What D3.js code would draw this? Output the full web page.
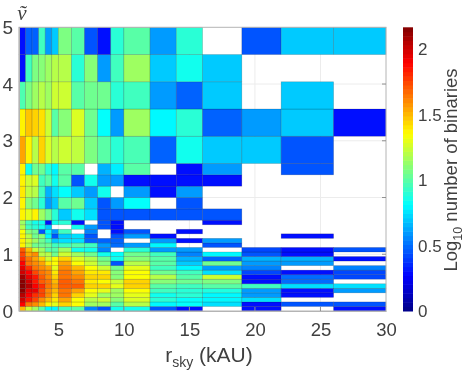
<!DOCTYPE html>
<html>
<head>
<meta charset="utf-8">
<script src="https://cdn.jsdelivr.net/npm/d3@7"></script>
<style>
html, body { margin: 0; padding: 0; background: #fff; }
svg { display: block; filter: blur(0.5px); }
text { font-family: "Liberation Sans", Arial, sans-serif; fill: #404040; }
</style>
</head>
<body>
<div id="chart"></div>
<script>
// bin edges of the histogram
var colEdges = [2, 2.5, 3, 3.5, 4, 4.5, 5, 6, 7, 8, 9, 10, 12, 14, 16, 19, 22, 26, 30];
var rowEdges = [0, 0.08, 0.16, 0.24, 0.32, 0.4, 0.48, 0.56, 0.64, 0.72, 0.8, 0.88, 0.96, 1.04, 1.12, 1.2,
	1.28, 1.36, 1.44, 1.52, 1.6, 1.8, 2, 2.2, 2.4, 2.6, 3.08, 3.56, 4.04, 4.52, 5];

// log10 number of binaries, first list is the lowest row, null = no binaries
var logCounts = [
	[1.5,1.25,1.15,1.0,.8,.8,.95,1.0,.55,.45,.85,.85,.45,.3,null,.3,null,.3],
	[1.9,1.65,1.6,1.5,1.38,1.3,1.45,1.35,1.15,1.15,1.0,1.2,.8,.82,.75,.3,.45,.45],
	[2.0,1.85,1.75,1.6,1.5,1.4,1.55,1.35,1.2,1.25,1.1,1.28,.9,.82,.8,.75,null,null],
	[2.05,1.9,1.8,1.75,1.6,1.45,1.65,1.45,1.3,1.15,1.15,1.3,.85,.9,.8,.6,.3,null],
	[2.15,1.95,1.95,1.75,1.6,1.5,1.65,1.55,1.35,1.3,1.15,1.35,.95,.9,.88,.6,.3,.6],
	[2.15,2.05,1.9,1.8,1.65,1.55,1.7,1.7,1.45,1.45,1.3,1.45,1.0,.95,1.0,.95,.75,.75],
	[2.15,2.0,1.85,1.7,1.65,1.5,1.7,1.65,1.4,1.35,1.25,1.45,1.1,1.05,1.08,.3,.5,null],
	[2.1,1.95,1.85,1.7,1.6,1.45,1.65,1.6,1.45,1.45,1.1,1.35,1.2,1.0,1.25,.3,.5,.42],
	[2.0,1.9,1.75,1.65,1.6,1.4,1.65,1.55,1.4,1.4,1.1,1.35,1.05,.95,.75,.42,.3,.42],
	[1.95,1.8,1.65,1.6,1.55,1.3,1.6,1.5,1.35,1.25,1.05,1.3,.95,.8,.6,.55,null,.55],
	[1.9,1.65,1.6,1.55,1.4,1.35,1.55,1.35,1.25,1.1,.45,1.2,1.0,.7,1.05,.6,.6,null],
	[1.8,1.65,1.55,1.45,1.25,1.35,1.45,1.28,1.2,1.05,.85,1.1,1.0,.65,.48,.65,.65,.3],
	[1.75,1.55,1.6,1.2,1.2,1.05,1.25,1.15,1.05,.85,.82,1.05,.95,.55,.8,.45,.3,null],
	[1.7,1.5,1.25,1.15,1.0,1.0,1.15,.85,.85,.55,null,.9,.6,.6,null,.42,.3,.45],
	[1.38,1.2,1.05,1.05,1.05,.95,.95,1.0,.95,.6,.5,.6,.8,null,.45,null,null,null],
	[1.38,1.25,1.15,1.05,.95,.7,.75,.75,.48,.48,.48,null,.6,.3,.6,null,null,null],
	[1.38,1.2,1.05,1.1,.8,.45,.7,.75,.45,null,.45,.6,.3,null,null,null,.3,null],
	[1.35,1.1,1.05,.45,.8,.6,.95,null,.55,null,.3,.45,null,.3,null,null,null,null],
	[1.2,.95,.9,.85,.7,null,null,.85,.6,.45,.3,null,null,null,null,null,null,null],
	[1.15,.95,.85,.85,.3,.85,.9,.3,null,.45,.3,null,null,null,.3,null,null,null],
	[1.38,1.3,1.38,1.15,1.05,.9,.7,.85,.75,.45,.45,.45,.45,.45,.45,null,null,null],
	[1.38,1.1,1.05,.9,.6,.7,1.0,1.05,.7,.45,.6,.82,null,.45,null,null,null,null],
	[1.4,1.22,1.2,.95,.65,.75,.82,.7,.6,.85,null,.6,.3,.6,null,null,null,null],
	[1.38,1.25,1.28,.95,1.0,.85,1.0,.45,.85,.6,.6,.3,.3,.3,.3,null,null,null],
	[1.38,.85,1.05,1.05,.9,.8,1.0,1.0,null,.65,.78,1.0,null,.3,.6,null,.45,null],
	[1.55,1.38,1.2,1.45,1.28,1.2,1.25,1.22,1.08,1.0,.9,.97,.48,.85,.7,.7,.45,null],
	[1.38,1.48,1.45,1.42,1.25,1.0,1.1,1.28,1.05,.82,.6,1.15,.8,.9,.48,.6,.7,.3],
	[.98,1.08,1.15,1.2,1.15,1.25,1.25,1.0,1.05,1.05,.9,.95,.6,.48,.7,null,.7,null],
	[.3,.95,1.08,1.1,1.15,1.2,1.2,.9,1.1,.6,.95,1.15,.7,.85,.7,null,null,null],
	[.3,.48,.48,.95,.6,.7,1.08,1.0,.45,.3,.9,1.0,.6,.9,null,.45,.7,.7]
];

var xTicks = [5, 10, 15, 20, 25, 30];
var yTicks = [0, 1, 2, 3, 4, 5];
var colorTicks = [0, 0.5, 1, 1.5, 2];
var colorMax = 2.17;

var width = 474, height = 382;
var plot = { left: 19, right: 386, top: 27.3, bottom: 311 };
var bar = { left: 403, right: 413 };
var gray = "#b4b4b4";

var x = d3.scaleLinear().domain([2, 30]).range([plot.left, plot.right]);
var y = d3.scaleLinear().domain([0, 5]).range([plot.bottom, plot.top]);
var barY = d3.scaleLinear().domain([0, colorMax]).range([plot.bottom, plot.top]);

// matlab jet
var jet = d3.scaleLinear()
	.domain([0, 0.125, 0.375, 0.625, 0.875, 1].map(function(t) { return t * colorMax; }))
	.range(["#000084", "#0000ff", "#00ffff", "#ffff00", "#ff0000", "#800000"]);

var svg = d3.select("#chart").append("svg")
	.attr("width", width)
	.attr("height", height);

// faint grid, only seen in the empty bins
var grid = svg.append("g");
grid.selectAll("line.gx").data(xTicks.slice(0, -1)).enter().append("line")
	.attr("class", "gx")
	.attr("x1", function(d) { return x(d); }).attr("x2", function(d) { return x(d); })
	.attr("y1", plot.top).attr("y2", plot.bottom)
	.attr("stroke", "#ececec");
grid.selectAll("line.gy").data(yTicks.slice(1, -1)).enter().append("line")
	.attr("class", "gy")
	.attr("x1", plot.left).attr("x2", plot.right)
	.attr("y1", function(d) { return y(d); }).attr("y2", function(d) { return y(d); })
	.attr("stroke", "#ececec");

// histogram cells
var cells = [];
logCounts.forEach(function(row, r) {
	row.forEach(function(v, c) {
		if (v !== null) cells.push({ r: r, c: c, v: v });
	});
});

svg.append("g").selectAll("rect").data(cells).enter().append("rect")
	.attr("x", function(d) { return x(colEdges[d.c]); })
	.attr("y", function(d) { return y(rowEdges[d.r + 1]); })
	.attr("width", function(d) { return x(colEdges[d.c + 1]) - x(colEdges[d.c]); })
	.attr("height", function(d) { return y(rowEdges[d.r]) - y(rowEdges[d.r + 1]); })
	.style("fill", function(d) { return jet(d.v); })
	.style("stroke", "rgba(0,0,0,0.22)")
	.style("stroke-width", 0.7);

// axes
var plainNumber = function(d) { return String(d); };
var xAxis = d3.axisBottom(x).tickValues(xTicks).tickSize(0).tickPadding(12).tickFormat(plainNumber);
var yAxis = d3.axisLeft(y).tickValues(yTicks).tickSize(0).tickPadding(6).tickFormat(plainNumber);

var gx = svg.append("g").attr("transform", "translate(0," + plot.bottom + ")").call(xAxis);
var gy = svg.append("g").attr("transform", "translate(" + plot.left + ",0)").call(yAxis);
gx.selectAll("text").style("font-size", "18.5px");
gy.selectAll("text").style("font-size", "19px");
gx.select(".domain").attr("stroke", gray);
gy.select(".domain").attr("stroke", gray);
gx.attr("font-family", null);
gy.attr("font-family", null);

// box and inward ticks
svg.append("rect")
	.attr("x", plot.left).attr("y", plot.top)
	.attr("width", plot.right - plot.left).attr("height", plot.bottom - plot.top)
	.style("fill", "none").style("stroke", gray);

svg.append("g").selectAll("line").data(xTicks.slice(0, -1)).enter().append("line")
	.attr("x1", function(d) { return x(d); }).attr("x2", function(d) { return x(d); })
	.attr("y1", plot.bottom).attr("y2", plot.bottom - 4)
	.attr("stroke", "#909090");
svg.append("g").selectAll("line").data(yTicks.slice(1, -1)).enter().append("line")
	.attr("x1", plot.right).attr("x2", plot.right - 4)
	.attr("y1", function(d) { return y(d); }).attr("y2", function(d) { return y(d); })
	.attr("stroke", "#909090");

// colorbar
var levels = d3.range(64);
var step = colorMax / 64;
svg.append("g").selectAll("rect").data(levels).enter().append("rect")
	.attr("x", bar.left)
	.attr("width", bar.right - bar.left)
	.attr("y", function(d) { return barY((d + 1) * step); })
	.attr("height", function(d) { return barY(d * step) - barY((d + 1) * step) + 0.5; })
	.style("fill", function(d) { return jet((d + 0.5) * step); });

var barAxis = d3.axisRight(barY).tickValues(colorTicks).tickSize(0).tickPadding(5)
	.tickFormat(plainNumber);
var gb = svg.append("g").attr("transform", "translate(" + bar.right + ",0)").call(barAxis);
gb.attr("font-family", null);
gb.select(".domain").remove();
gb.selectAll("text").style("font-size", "17px");

// labels
var xLabel = svg.append("text")
	.attr("x", 209).attr("y", 362)
	.attr("text-anchor", "middle")
	.style("font-size", "21px");
xLabel.append("tspan").text("r");
xLabel.append("tspan").attr("dy", 5).style("font-size", "14px").text("sky");
xLabel.append("tspan").attr("dy", -5).text(" (kAU)");

var barLabel = svg.append("text")
	.attr("transform", "translate(457,170) rotate(-90)")
	.attr("text-anchor", "middle")
	.style("font-size", "18.5px");
barLabel.append("tspan").text("Log");
barLabel.append("tspan").attr("dy", 5).style("font-size", "12.5px").text("10");
barLabel.append("tspan").attr("dy", -5).text(" number of binaries");

svg.append("text")
	.attr("x", 22).attr("y", 20)
	.attr("text-anchor", "middle")
	.style("font-family", "'Liberation Serif', serif")
	.style("font-style", "italic")
	.style("font-size", "21px")
	.text("\u1E7D");
</script>
</body>
</html>
